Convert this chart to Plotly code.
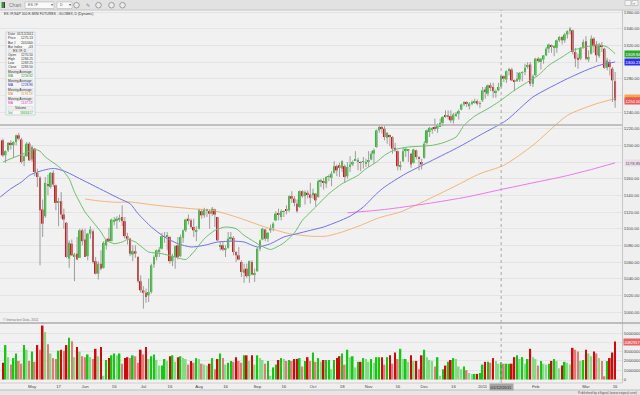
import plotly.graph_objects as go

W, H = 640, 395
PLOT_W = 622

# ---------------- data (ES #F daily, 16 Apr 2010 .. 16 Mar 2011; bar index 0..231) ----------------
opens = [1206,1188,1194,1203,1200,1204,1212,1207,1181,1187,1202,
 1183,1196,1167,1161,1123,1115,1153,1150,1167,1152,
 1131,1133,1117,1107,1064,1082,1066,1070,1065,1098,
 1087,1067,1094,1097,1061,1046,1058,1053,1080,1088,
 1085,1109,1110,1111,1114,1109,1091,1088,1069,1073,
 1066,1037,1026,1023,1020,1024,1057,1066,1073,1076,
 1090,1091,1090,1061,1066,1080,1067,1089,1098,1112,
 1110,1102,1097,1100,1121,1116,1122,1121,1118,1123,
 1114,1079,1080,1075,1077,1088,1089,1072,1068,1060,
 1047,1052,1043,1060,1045,1049,1076,1087,1099,1088,
 1098,1101,1110,1118,1114,1120,1123,1122,1139,1136,
 1130,1126,1145,1139,1143,1141,1140,1142,1138,1157,
 1157,1154,1162,1161,1167,1175,1176,1172,1175,1163,
 1175,1177,1182,1180,1180,1180,1178,1181,1183,1190,
 1198,1218,1221,1220,1209,1212,1210,1197,1193,1175,
 1181,1193,1194,1190,1179,1194,1185,1180,1185,1203,
 1216,1219,1222,1220,1222,1227,1236,1235,1235,1230,
 1236,1238,1243,1249,1252,1247,1250,1251,1253,1250,
 1254,1267,1262,1272,1270,1263,1266,1270.5,1283,1279,
 1290,1291,1278,1277,1279,1287,1288,1294,1297,1274,
 1284,1304,1300,1303,1308,1316,1320,1317,1317,1326,
 1330,1326,1333,1337,1338,1312,1305,1304,1318,1325,
 1303,1310,1328,1320,1307,1320,1316,1293,1300,1292,1277]
highs = [1208,1194,1204,1206,1205,1213,1215,1209,1189,1204,1204,
 1200,1197,1172,1163,1135,1162,1165,1168,1170,1153,
 1137,1144,1124,1108,1086,1087,1071,1090,1100,1100,
 1100,1095,1103,1099,1066,1061,1074,1085,1088,1101,
 1112,1114,1115,1117,1128,1114,1095,1089,1080,1080,
 1067,1044,1031,1028,1040,1058,1068,1075,1078,1095,
 1096,1096,1091,1070,1080,1090,1093,1099,1112,1117,
 1112,1112,1103,1124,1123,1125,1124,1123,1126,1124,
 1114,1085,1084,1080,1096,1096,1091,1073,1078,1062,
 1058,1058,1062,1062,1052,1078,1087,1101,1100,1096,
 1105,1108,1121,1124,1123,1122,1128,1140,1145,1139,
 1135,1146,1146,1146,1146,1155,1148,1143,1159,1160,
 1161,1163,1165,1169,1181,1177,1179,1182,1177,1180,
 1187,1182,1193,1185,1181,1186,1184,1193,1193,1196,
 1219,1224,1224,1223,1216,1213,1211,1203,1194,1181,
 1197,1197,1195,1191,1196,1195,1187,1184,1205,1219,
 1222,1222,1232,1226,1232,1235,1242,1242,1242,1239,
 1240,1243,1250,1253,1253,1252,1254,1256,1255,1253,
 1270,1270,1273,1275,1275,1267,1275,1284.25,1284,1290,
 1293,1293,1279,1288,1288,1289,1298,1300,1300,1285,
 1305,1306,1305,1308,1318,1322,1321,1320,1327,1331,
 1331,1335,1338,1342,1339,1317,1310,1318,1327,1331,
 1314,1332,1330,1325,1323,1324,1317,1305,1303,1294,1288]
lows = [1186,1179,1192,1195,1185,1200,1206,1178,1175,1186,1181,
 1180,1163,1150,1056,1090,1113,1140,1148,1150,1122,
 1103,1112,1100,1065,1053,1067,1037,1062,1065,1080,
 1066,1062,1088,1058,1045,1039,1050,1052,1075,1085,
 1085,1104,1100,1108,1103,1088,1081,1067,1061,1065,
 1035,1023,1004,1011,1012,1022,1053,1062,1066,1075,
 1083,1074,1058,1055,1052,1063,1066,1083,1096,1105,
 1100,1090,1085,1099,1112,1113,1114,1100,1115,1102,
 1085,1074,1073,1066,1076,1084,1068,1060,1062,1042,
 1035,1041,1035,1044,1036,1048,1073,1086,1085,1084,
 1095,1097,1109,1110,1110,1114,1117,1120,1131,1127,
 1119,1125,1137,1129,1136,1130,1136,1127,1137,1150,
 1147,1149,1157,1151,1166,1163,1162,1168,1155,1160,
 1168,1175,1181,1170,1169,1172,1174,1174,1182,1178,
 1197,1215,1214,1206,1202,1199,1190,1192,1170,1170,
 1180,1186,1180,1173,1178,1183,1170,1171,1184,1201,
 1210,1214,1217,1215,1222,1223,1233,1231,1227,1226,
 1234,1231,1242,1247,1246,1243,1248,1250,1248,1245,
 1252,1256,1259,1265,1257,1257,1265,1269.25,1276,1275,
 1284,1277,1265,1276,1276,1277,1284,1292,1271,1270,
 1283,1299,1291,1298,1307,1311,1311,1307,1311,1324,
 1321,1323,1328,1333,1309,1294,1292,1302,1316,1302,
 1300,1309,1311,1300,1305,1312,1292,1290,1284,1252,1245]
closes = [1188,1193,1203,1201,1204,1212,1208,1180,1187,1202,1182,
 1198,1168,1162,1122,1106,1155,1152,1167,1153,1131,
 1133,1117,1111,1066,1083,1068,1069,1063,1098,1085,
 1066,1094,1099,1060,1046,1058,1052,1083,1087,1085,
 1111,1110,1112,1113,1109,1091,1088,1070,1073,1070,
 1037,1026,1023,1018,1024,1056,1066,1074,1075,1091,
 1091,1092,1061,1067,1079,1066,1090,1098,1111,1110,
 1102,1098,1098,1122,1116,1123,1122,1118,1124,1117,
 1086,1080,1075,1076,1088,1090,1072,1068,1063,1048,
 1051,1043,1061,1045,1046,1076,1086,1100,1088,1095,
 1101,1106,1118,1117,1121,1121,1122,1139,1136,1131,
 1121,1145,1139,1144,1141,1137,1143,1134,1157,1157,
 1155,1162,1162,1166,1175,1170,1173,1181,1162,1174,
 1177,1180,1182,1182,1179,1180,1180,1181,1190,1194,
 1218,1222,1220,1210,1215,1210,1196,1194,1175,1175,
 1193,1196,1194,1177,1195,1186,1184,1177,1202,1218,
 1221,1219,1220,1224,1227,1234,1234,1235,1230,1237,
 1238,1241,1249,1252,1250,1250,1251,1253,1250,1250,
 1266,1265,1272,1269,1265,1265,1270,1283.5,1280,1289,
 1291,1278,1276,1280,1287,1288,1293,1296,1274,1283,
 1304,1302,1304,1308,1316,1321,1318,1319,1326,1330,
 1326,1333,1337,1340,1312,1304,1303,1317,1324,1304,
 1306,1328,1319,1308,1320,1318,1293,1302,1294,1278,1254]
volumes = [1800000,3700000,2400000,1600000,2300000,2800000,2000000,1700000,3700000,3200000,
 2000000,3000000,1900000,3700000,3200000,5800000,5100000,3800000,2800000,2300000,
 2200000,3100000,3200000,3100000,3700000,4500000,4100000,2400000,3500000,3000000,
 2500000,2400000,2700000,2400000,2200000,3300000,2500000,3500000,400000,2100000,
 2300000,2600000,2800000,2600000,2800000,1700000,2300000,2400000,2300000,2600000,
 2500000,1800000,3200000,2700000,3500000,2200000,2500000,2700000,2100000,1500000,
 1500000,2200000,2000000,2500000,2600000,1900000,2400000,2500000,2300000,2200000,
 1600000,2000000,1800000,2300000,2200000,1700000,1600000,1500000,1700000,2300000,
 1100000,2200000,2800000,2300000,1600000,1800000,2000000,1900000,2400000,2000000,
 1800000,2600000,2600000,2000000,2600000,1600000,2600000,2300000,2100000,1700000,
 2000000,400000,1300000,1600000,2100000,2300000,2200000,2000000,2100000,2000000,
 2200000,2200000,2300000,1400000,2000000,2400000,2000000,2900000,1900000,2300000,
 1900000,2100000,2100000,2100000,1100000,2100000,2300000,2500000,2800000,1600000,
 3200000,2400000,2500000,1300000,1900000,1900000,2300000,2200000,1900000,2200000,
 1800000,2400000,2400000,2400000,1600000,2400000,2600000,1700000,2900000,2200000,
 3300000,2200000,2200000,1900000,2600000,2000000,2000000,1100000,2600000,3200000,
 2400000,2100000,2000000,1400000,2400000,400000,1100000,1500000,1900000,2100000,
 2300000,2200000,1400000,1100000,1400000,1000000,700000,600000,600000,600000,
 700000,1600000,1900000,1900000,1800000,2300000,2000000,1700000,1863417,1700000,
 1700000,1700000,1700000,2400000,2600000,2200000,2400000,1700000,2200000,3300000,
 2400000,2200000,1500000,2000000,1700000,1600000,1700000,2000000,2200000,2000000,
 1200000,1500000,1900000,1800000,1600000,3400000,3200000,3000000,2000000,2100000,
 3200000,2800000,2500000,3000000,2800000,2300000,2000000,350000,2000000,2300000,
 2900000,4082917]

# moving averages (bar index, value)
ma_green_idx = [0,3,7,12,14,16,20,22,25,27,31,34,37,39,42,45,47,50,55,60,65,69,72,76,80,84,88,91,95,97,
                101,106,110,113,118,123,128,134,137,141,144,148,153,158,162,166,171,174,178,183,187,190,
                193,198,202,206,211,215,220,224,228,231]
ma_green_val = [1180,1184,1189,1195,1193,1186,1177,1172,1160,1144,1120,1108,1096,1086,1082,1084,1087,1084,
                1072,1070,1066,1063,1072,1088,1098,1102,1100,1092,1084,1080,1075,1083,1095,1110,1126,1142,
                1154,1164,1172,1180,1188,1195,1198,1199,1200,1203,1210,1224,1235,1244,1252,1259,1266,1276,
                1284,1296,1306,1314,1318,1321,1318,1310]
ma_blue_idx = [-1,3,7,10,14,18,20,24,29,34,39,44,48,51,56,61,66,71,76,81,87,91,96,101,106,111,116,121,126,131,
               136,141,144,152,162,172,181,190,200,213,220,225,231]
ma_blue_val = [1138,1148,1156,1164,1169,1172,1172,1168,1160,1152,1144,1136,1130,1118,1102,1090,1082,1078,1080,
               1084,1085,1084,1078,1082,1090,1094,1098,1102,1108,1115,1126,1142,1150,1166,1182,1198,1214,1230,
               1258,1280,1290,1296,1300]
ma_orange_idx = [31,37,43,48,58,71,79,84,90,97,101,108,116,122,128,135,141,144,150,159,170,180,189,200,213,224,231]
ma_orange_val = [1135.6,1133,1131.6,1132,1128,1124,1122,1118,1112,1104,1100,1094,1091,1091,1096,1104,1112,1115,
                 1120,1133,1150,1166,1176,1200,1236,1250,1256]
ma_pink_idx = [130,144,160,175,188,200,212,222,231]
ma_pink_val = [1119,1123,1130,1138,1147,1155,1163,1171,1179]

tick_index = [11,21,31,42,53,63,74,84,96,106,117,128,138,149,159,170,181,201,220,231]
tick_text = ["May","17","Jun","16","Jul","16","Aug","16","Sep","16","Oct","18","Nov","16","Dec","16",
             "2011","Feb","Mar","16"]
price_ticks = [1000,1020,1040,1060,1080,1100,1120,1140,1160,1180,1200,1220,1240,1260,1280,1300,1320,1340,1360]
volume_ticks = [0,1000000,2000000,3000000,4000000,5000000]
covered_price_ticks = [1180, 1260, 1300]      # hidden behind the value labels
covered_volume_ticks = [4000000]
cross_index = 188
cross_price = 1224.4

# ---------------- figure ----------------
FONT = "Liberation Sans, Arial, sans-serif"
n = len(closes)
xs = list(range(n))

def px(x):
    return x / PLOT_W

def py(y):
    return 1 - y / H

fig = go.Figure()

for idx, val, col in [(ma_orange_idx, ma_orange_val, "#f4b478"),
                      (ma_pink_idx, ma_pink_val, "#ee77ee"),
                      (ma_blue_idx, ma_blue_val, "#6f6ff0"),
                      (ma_green_idx, ma_green_val, "#6cbf6c")]:
    fig.add_trace(go.Scatter(x=idx, y=val, mode="lines", line=dict(color=col, width=1, shape="spline", smoothing=0.6),
                             xaxis="x", yaxis="y", hoverinfo="skip"))

wx, wy = [], []
for i in xs:
    wx += [i, i, None]
    wy += [lows[i], highs[i], None]
fig.add_trace(go.Scatter(x=wx, y=wy, mode="lines", line=dict(color="#9c9c9c", width=1),
                         xaxis="x", yaxis="y", hoverinfo="skip"))

body_h = [max(abs(closes[i] - opens[i]), 0.8) for i in xs]
body_b = [min(opens[i], closes[i]) for i in xs]
body_c = ["#1ec81e" if closes[i] >= opens[i] else "#d81414" for i in xs]
fig.add_trace(go.Bar(x=xs, y=body_h, base=body_b, marker=dict(color=body_c, line=dict(width=0)),
                     width=0.72, xaxis="x", yaxis="y", hoverinfo="skip"))

vol_c = []
for i in xs:
    up = closes[i] >= opens[i]
    bright = i == 0 or volumes[i] >= volumes[i - 1]
    if up:
        vol_c.append("#12c812" if bright else "#86da86")
    else:
        vol_c.append("#cc0a0a" if bright else "#e27a7a")
fig.add_trace(go.Bar(x=xs, y=volumes, marker=dict(color=vol_c, line=dict(width=0)), width=0.62,
                     xaxis="x2", yaxis="y2", hoverinfo="skip"))

XR = [-1.1, 233.6]
price_dom = [py(323), py(10)]
vol_dom = [py(383), py(323)]
price_range = [1000 - (323 - 312) * 1.2, 1000 + (312 - 10) * 1.2]
vol_range = [-(383 - 379.5) / 9.3 * 1e6, (379.5 - 323) / 9.3 * 1e6]

tickfont = dict(family=FONT, size=4.3, color="#444")
fig.update_layout(
    width=W, height=H, margin=dict(l=0, r=W - PLOT_W, t=0, b=0, autoexpand=False),
    paper_bgcolor="#efefef", plot_bgcolor="#f1f1f1",
    showlegend=False, barmode="overlay", hovermode=False,
    xaxis=dict(domain=[0, 1], range=XR, showticklabels=False, showgrid=False, zeroline=False, anchor="y"),
    xaxis2=dict(domain=[0, 1], range=XR, anchor="y2", matches="x", showgrid=False, zeroline=False,
                tickmode="array", tickvals=tick_index, ticktext=tick_text, tickfont=tickfont, ticks=""),
    yaxis=dict(domain=price_dom, range=price_range, side="right", anchor="x", tickmode="array",
               tickvals=price_ticks,
               ticktext=["" if v in covered_price_ticks else "%.2f" % v for v in price_ticks], tickfont=tickfont,
               gridcolor="#e4e4e4", gridwidth=1, zeroline=False, showline=True, linecolor="#c4c4c4", ticks=""),
    yaxis2=dict(domain=vol_dom, range=vol_range, side="right", anchor="x2", tickmode="array",
                tickvals=volume_ticks,
                ticktext=["" if v in covered_volume_ticks else str(v) for v in volume_ticks], tickfont=tickfont,
                gridcolor="#e4e4e4", zeroline=False, showline=True, linecolor="#c4c4c4", ticks=""),
)

shapes = []
ann = []

def rect(x0, y0, x1, y1, fill, line=None, lw=0):
    shapes.append(dict(type="rect", xref="paper", yref="paper", x0=px(x0), x1=px(x1), y0=py(y1), y1=py(y0),
                       fillcolor=fill, line=dict(color=line or fill, width=lw), layer="above"))

def hline(y, x0, x1, col, w):
    shapes.append(dict(type="line", xref="paper", yref="paper", x0=px(x0), x1=px(x1), y0=py(y), y1=py(y),
                       line=dict(color=col, width=w), layer="above"))

def text(x, y, s, size=4.2, col="#333", anchor="left", bg=None):
    d = dict(xref="paper", yref="paper", x=px(x), y=py(y), text=s,
             showarrow=False, xanchor=anchor, yanchor="middle", font=dict(family=FONT, size=size, color=col),
             borderpad=0)
    if bg:
        d["bgcolor"] = bg
    ann.append(d)

# toolbar
rect(0, 0, 640, 10, "#e2e2e2")
hline(10, 0, 640, "#c6c6c6", 1)
rect(1.5, 2, 3.5, 8, "#2b9a2b")
rect(3.5, 2, 5, 8, "#3a3a3a")
text(8, 5.3, "Chart", 5, "#808080")
rect(25, 2, 54, 8.5, "#fafafa", "#b5b5b5", 0.6)
text(27, 5.3, "ES #F", 3.6, "#555")
text(50, 5.3, "▾", 3.6, "#555")
rect(57, 2, 72, 8.5, "#fafafa", "#b5b5b5", 0.6)
text(59, 5.3, "D", 3.6, "#555")
text(68, 5.3, "▾", 3.6, "#555")
for cx in [76.5, 98.5, 111.5, 122.5]:
    shapes.append(dict(type="circle", xref="paper", yref="paper", x0=px(cx - 2.8), x1=px(cx + 2.8),
                       y0=py(8), y1=py(2.4), line=dict(color="#8a8a8a", width=0.8), fillcolor="#ececec",
                       layer="above"))
text(84.5, 5.3, "✎", 5, "#8a8a8a")
rect(625, 0.5, 631, 5.5, "#f4f4f4", "#b0b0b0", 0.6)
rect(632, 0.5, 638, 5.5, "#f4f4f4", "#b0b0b0", 0.6)
text(635, 3, "×", 4, "#555", "center")

# title
text(2.5, 14.3, "ES #F,S&P 500 E-MINI FUTURES - GLOBEX, D (Dynamic)", 3.4, "#333")

# separators
hline(323, 0, 640, "#ababab", 1.4)
hline(383, 0, 622, "#cfcfcf", 1)
rect(0, 390, 640, 395, "#e6e6e6")
hline(390, 0, 640, "#bdbdbd", 1)
text(2, 319.6, "© Interactive Data, 2011", 3.3, "#777")
text(638, 392.6, "Published by xSignal (www.xsignal.com)", 3.3, "#555", "right")

# crosshair
shapes.append(dict(type="line", xref="x", yref="paper", x0=cross_index, x1=cross_index, y0=py(383), y1=py(10),
                   line=dict(color="#a8a8a8", width=1, dash="dot"), layer="above"))
shapes.append(dict(type="line", xref="paper", yref="y", x0=0, x1=1, y0=cross_price, y1=cross_price,
                   line=dict(color="#b0b0b0", width=1.5), layer="above"))
ann.append(dict(xref="x", yref="paper", x=cross_index, y=py(387), text="01/12/2011", showarrow=False,
                xanchor="center", yanchor="middle", bgcolor="#a6a6a6", borderpad=0.6,
                font=dict(family=FONT, size=4.2, color="#2a2a2a")))

# right-axis value labels
def vlabel(yv, s, bg, col="white", yref="y", x=623.5, size=4.2):
    ann.append(dict(xref="paper", yref=yref, x=px(x), y=yv, text=s, showarrow=False, xanchor="left",
                    yanchor="middle", bgcolor=bg, borderpad=0.5, font=dict(family=FONT, size=size, color=col)))

vlabel(1309.8, "1309.84", "#2fa82f")
vlabel(1300.2, "1300.23", "#2d2df0")
vlabel(1178.8, "1178.85", "#e9dde9", "#555")
vlabel(1257.4, "1256.87", "#f3a850", "#7a3e00")
vlabel(1253.5, "%.2f" % closes[-1], "#ec5a5a")
vlabel(volumes[-1], str(volumes[-1]), "#e86464", yref="y2", x=623, size=3.9)

# data window box
rect(6, 32, 35, 115, "#f7f7f7", "#b9c9d9", 0.7)
rows = [(34.2, "Date", "01/12/2011", "#333"), (38.4, "Price", "1275.13", "#333"), (42.6, "Bar #", "201/000", "#333"),
        (46.6, "Bar Index", "-43", "#333"), (55, "Open", "%.2f" % opens[cross_index], "#333"),
        (59, "High", "%.2f" % highs[cross_index], "#333"), (63, "Low", "%.2f" % lows[cross_index], "#333"),
        (67, "Close", "%.2f" % closes[cross_index], "#333"),
        (76, "MA", "1258.82", "#2a9a2a"), (85.3, "MA", "1228.86", "#2a2ae0"),
        (94.3, "MA", "1176.13", "#e08a20"), (103.3, "MA", "1147.19", "#d040d0"),
        (112.7, "Vol", str(volumes[cross_index]), "#20b020")]
for y, a, b, c in rows:
    text(7, y, a, 3.3, c if a in ("MA", "Vol") else "#333")
    text(34.3, y, b, 3.3, c, "right")
for y, s in [(50.8, "ES #F, D"), (71.6, "Moving Average"), (80.8, "Moving Average"), (90, "Moving Average"),
             (99, "Moving Average"), (108.3, "Volume")]:
    rect(8, y - 1.9, 33, y + 1.9, "#eeeeee", "#cfcfcf", 0.4)
    text(20.5, y, s, 3.3, "#333", "center")

fig.update_layout(shapes=shapes, annotations=ann)
fig.write_html("out.html", config={"displayModeBar": False},
               post_script="document.body.style.margin='0';document.body.style.overflow='hidden';")
